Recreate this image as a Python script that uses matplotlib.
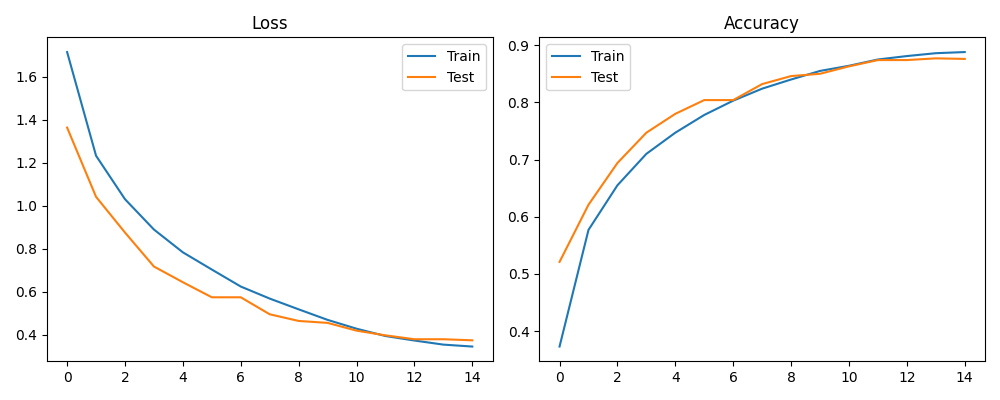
import matplotlib
matplotlib.use('Agg')
import matplotlib.pyplot as plt

epochs = list(range(15))

train_loss = [1.715, 1.233, 1.031, 0.890, 0.784, 0.704, 0.625, 0.569, 0.519,
              0.470, 0.429, 0.395, 0.374, 0.355, 0.346]
test_loss = [1.364, 1.042, 0.876, 0.718, 0.645, 0.575, 0.575, 0.496, 0.465,
             0.456, 0.420, 0.398, 0.380, 0.380, 0.375]

train_acc = [0.373, 0.577, 0.655, 0.710, 0.747, 0.778, 0.803, 0.824, 0.840,
             0.855, 0.864, 0.875, 0.881, 0.886, 0.888]
test_acc = [0.521, 0.621, 0.694, 0.747, 0.780, 0.804, 0.804, 0.832, 0.846,
            0.850, 0.863, 0.874, 0.874, 0.877, 0.876]

fig, (ax1, ax2) = plt.subplots(1, 2, figsize=(10, 4), dpi=100)

# loss
ax1.plot(epochs, train_loss, label='Train')
ax1.plot(epochs, test_loss, label='Test')
ax1.set_title('Loss')
ax1.legend()

# accuracy
ax2.plot(epochs, train_acc, label='Train')
ax2.plot(epochs, test_acc, label='Test')
ax2.set_title('Accuracy')
ax2.legend()

fig.tight_layout()
fig.savefig('out.png')
